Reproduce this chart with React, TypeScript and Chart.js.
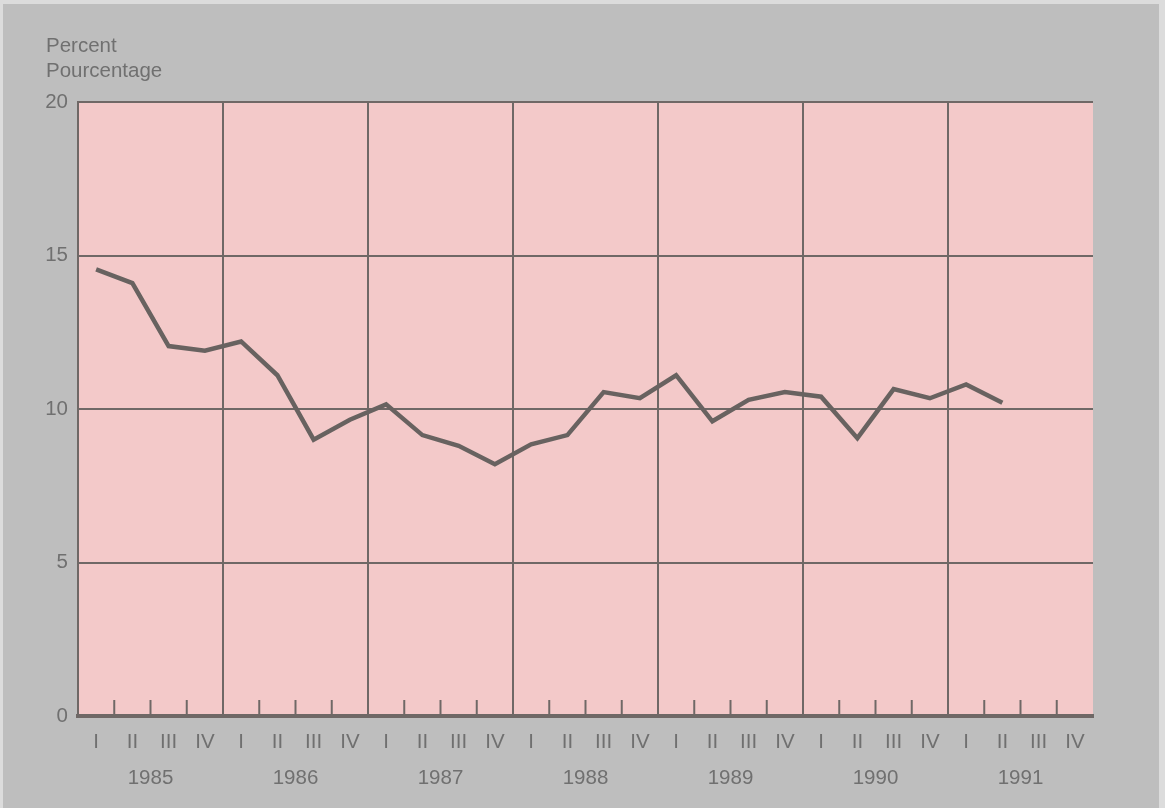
import React, { useEffect, useRef } from "react";
import { Chart, registerables } from "chart.js";

Chart.register(...registerables);

// ---- data ----
const years: string[] = ["1985", "1986", "1987", "1988", "1989", "1990", "1991"];
const quarterNames: string[] = ["I", "II", "III", "IV"];
const quarterLabels: string[] = years.flatMap((y) => quarterNames.map((q) => `${y} ${q}`));
const rates: (number | null)[] = [
  14.55, 14.1, 12.05, 11.9,
  12.2, 11.1, 9.0, 9.65,
  10.15, 9.15, 8.8, 8.2,
  8.85, 9.15, 10.55, 10.35,
  11.1, 9.6, 10.3, 10.55,
  10.4, 9.05, 10.65, 10.35,
  10.8, 10.2, null, null,
];
const yMin = 0;
const yMax = 20;
const yStep = 5;
const unitTitle: string[] = ["Percent", "Pourcentage"];

// ---- styles ----
const FONT = "'Liberation Sans', Arial, Helvetica, sans-serif";
const FSIZE = 20.5;
const TEXT = "#707070";
const GRID = "#6f6866";
const LINE = "#686260";
const PINK = "#f3c9c9";
const BG = "#bebebe";
const EDGE = "#dcdcdc";

const pageBg = {
  id: "pageBg",
  beforeDraw(chart: any) {
    const { ctx, width, height, chartArea: a } = chart;
    ctx.save();
    ctx.fillStyle = BG;
    ctx.fillRect(0, 0, width, height);
    ctx.fillStyle = EDGE;
    ctx.fillRect(0, 0, width, 4);
    ctx.fillRect(0, 0, 3, height);
    ctx.fillRect(width - 6, 0, 6, height);
    ctx.fillStyle = PINK;
    ctx.fillRect(a.left, a.top, a.right - a.left, a.bottom - a.top);
    ctx.restore();
  },
};

const quarterTicks = {
  id: "quarterTicks",
  beforeDatasetsDraw(chart: any) {
    const x = chart.scales.x;
    const { ctx, chartArea: a } = chart;
    ctx.save();
    ctx.strokeStyle = GRID;
    ctx.lineWidth = 2;
    for (let i = 1; i < quarterLabels.length; i++) {
      if (i % 4 === 0) continue;
      const px = (x.getPixelForValue(i - 1) + x.getPixelForValue(i)) / 2;
      ctx.beginPath();
      ctx.moveTo(px, a.bottom);
      ctx.lineTo(px, a.bottom - 16);
      ctx.stroke();
    }
    ctx.restore();
  },
};

const unitTitlePlugin = {
  id: "unitTitle",
  afterDraw(chart: any) {
    const { ctx, chartArea: a } = chart;
    ctx.save();
    ctx.font = `${FSIZE}px ${FONT}`;
    ctx.fillStyle = TEXT;
    ctx.textAlign = "left";
    ctx.textBaseline = "middle";
    unitTitle.forEach((t, i) => ctx.fillText(t, a.left - 32, a.top - 56 + i * 25));
    ctx.restore();
  },
};

export default function App() {
  const ref = useRef<HTMLCanvasElement | null>(null);

  useEffect(() => {
    if (!ref.current) return;
    const chart = new Chart(ref.current, {
      type: "line",
      data: {
        labels: quarterLabels,
        datasets: [
          {
            data: rates,
            borderColor: LINE,
            borderWidth: 4.5,
            pointRadius: 0,
            tension: 0,
            fill: false,
            spanGaps: false,
            xAxisID: "x",
            yAxisID: "y",
          },
        ],
      },
      options: {
        responsive: false,
        animation: false,
        layout: { padding: { top: 102, right: 72, bottom: 0, left: 0 } },
        plugins: {
          legend: { display: false },
          tooltip: { enabled: false },
          title: { display: false },
        },
        scales: {
          x: {
            type: "category",
            position: "bottom",
            weight: 0,
            offset: true,
            grid: {
              offset: true,
              drawTicks: false,
              lineWidth: 2,
              color: (c: any) => (c.index % 4 === 0 ? GRID : "rgba(0,0,0,0)"),
            },
            border: { display: true, color: GRID, width: 4 },
            ticks: {
              autoSkip: false,
              maxRotation: 0,
              padding: 14,
              color: TEXT,
              font: { size: FSIZE, family: FONT },
              callback: (_v: any, i: number) => quarterNames[i % 4],
            },
            afterFit: (s: any) => {
              s.height = 45;
            },
          },
          x2: {
            type: "category",
            labels: years,
            position: "bottom",
            weight: 1,
            offset: true,
            grid: { display: false, drawTicks: false },
            border: { display: false },
            ticks: {
              autoSkip: false,
              maxRotation: 0,
              padding: 5,
              color: TEXT,
              font: { size: FSIZE, family: FONT },
            },
            afterFit: (s: any) => {
              s.height = 47;
            },
          },
          y: {
            min: yMin,
            max: yMax,
            grid: { color: GRID, lineWidth: 2, drawTicks: false },
            border: { display: true, color: GRID, width: 2 },
            ticks: {
              stepSize: yStep,
              padding: 10,
              color: TEXT,
              font: { size: FSIZE, family: FONT },
            },
            afterFit: (s: any) => {
              s.width = 78;
            },
          },
        },
      },
      plugins: [pageBg, quarterTicks, unitTitlePlugin],
    } as any);
    return () => chart.destroy();
  }, []);

  return (
    <div
      style={{
        position: "fixed",
        left: 0,
        top: 0,
        width: 1165,
        height: 808,
        background: BG,
      }}
    >
      <canvas ref={ref} width={1165} height={808} style={{ display: "block" }} />
    </div>
  );
}
